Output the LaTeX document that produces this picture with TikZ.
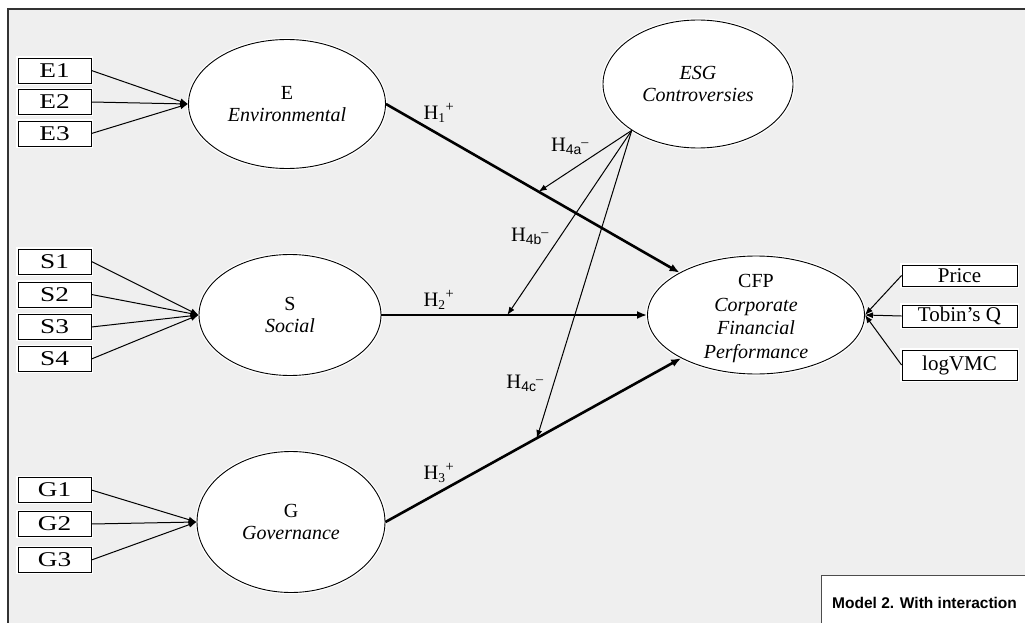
\documentclass[tikz,border=0pt]{standalone}
\usepackage{fontspec}
\setmainfont{Liberation Serif}
\setsansfont{Liberation Sans}
\newfontfamily\widefont[FakeStretch=1.3]{Liberation Serif}
\usetikzlibrary{shapes.geometric,arrows.meta}
\definecolor{bgc}{HTML}{EFEFEF}
\definecolor{frm}{HTML}{333333}
\newcommand{\hyplab}[2]{H\textsubscript{\fontsize{13.5}{13.5}\selectfont #1}\textsuperscript{\fontsize{14.5}{14.5}\selectfont #2}}
\newcommand{\hypmod}[1]{H\textsubscript{\sffamily\fontsize{14}{14}\selectfont #1}\textsuperscript{\fontsize{14}{14}\selectfont\kern-0.5pt\raisebox{-2.5pt}{–}}}
\begin{document}
\begin{tikzpicture}[x=1pt,y=-1pt,
  halo/.style={preaction={draw=white, line width=3.5pt}},
  lat/.style={ellipse, draw=black, fill=white, inner sep=0pt, align=center,
    font=\fontsize{20}{22}\selectfont, line width=0.9pt, halo},
  ind/.style={draw=black, fill=white, minimum width=73pt, minimum height=25pt,
    inner sep=0pt, font=\widefont\fontsize{21}{21}\selectfont, line width=0.9pt, halo},
  indr/.style={draw=black, fill=white, minimum width=115pt,
    inner sep=0pt, font=\fontsize{21}{21}\selectfont, line width=0.9pt, halo},
  ld/.style={-{Latex[length=8pt,width=6pt]}, line width=1pt},
  hyp/.style={-{Latex[length=10pt,width=8pt]}, line width=2.6pt},
  mod/.style={-{Latex[length=8pt,width=6pt]}, line width=1pt},
  hl/.style={font=\fontsize{20.5}{20.5}\selectfont, inner sep=0pt}
]
\useasboundingbox (0,0) rectangle (1025,623);
\fill[white] (0,0) rectangle (1025,623);
\draw[line width=2pt, draw=frm, fill=bgc] (8,9) rectangle (1045,645);

% latent variables
\node[lat, minimum width=197pt, minimum height=129pt] (E) at (287,104) {E\\\textit{Environmental}};
\node[lat, minimum width=182pt, minimum height=121pt] (S) at (290,315) {\raisebox{-3.5pt}{S}\\\raisebox{-3.5pt}{\textit{Social}}};
\node[lat, minimum width=188pt, minimum height=141pt] (G) at (291,522) {\raisebox{-3pt}{G}\\\raisebox{-3pt}{\textit{Governance}}};
\node[lat, minimum width=190pt, minimum height=128pt] (ESG) at (698,84) {\raisebox{-2pt}{\textit{ESG}}\\\raisebox{-2pt}{\textit{Controversies}}};
\node[lat, minimum width=217pt, minimum height=118pt,
  label={[align=center, font=\fontsize{20}{23.5}\selectfont, yshift=-3.5pt]center:CFP\\\textit{Corporate}\\\textit{Financial}\\\textit{Performance}}] (CFP) at (756,315) {};

% indicators
\node[ind] (E1) at (54.5,70.5) {E1};
\node[ind] (E2) at (54.5,102) {E2};
\node[ind] (E3) at (54.5,133.5) {E3};
\node[ind] (S1) at (54.5,261.5) {S1};
\node[ind] (S2) at (54.5,294.5) {S2};
\node[ind] (S3) at (54.5,327) {S3};
\node[ind] (S4) at (54.5,359) {S4};
\node[ind] (G1) at (54.5,490) {G1};
\node[ind] (G2) at (54.5,524) {G2};
\node[ind] (G3) at (54.5,560) {G3};
\node[indr, minimum height=21pt] (P) at (959.5,275.5) {Price};
\node[indr, minimum height=22pt] (T) at (959.5,316) {Tobin’s Q};
\node[indr, minimum height=30pt] (L) at (959.5,365) {logVMC};

% measurement arrows
\foreach \i in {E1,E2,E3} \draw[ld] (\i.east) -- (E.west);
\foreach \i in {S1,S2,S3,S4} \draw[ld] (\i.east) -- (S.west);
\foreach \i in {G1,G2,G3} \draw[ld] (\i.east) -- (G.west);
\foreach \i in {P,T,L} \draw[ld] (\i.west) -- (CFP.east);

% structural paths
\draw[hyp] (E.east) -- coordinate[pos=0.52] (m1) (CFP.151.7);
\draw[hyp] (S.east) -- coordinate[pos=0.474] (m2) (CFP.west);
\draw[hyp] (G.east) -- coordinate[pos=0.512] (m3) (CFP.210.5);

% moderation
\draw[mod] (ESG.215) -- (m1);
\draw[mod] (ESG.215) -- (m2);
\draw[mod] (ESG.215) -- (m3);

% labels
\node[hl] (h1) at (439,113) {\hyplab{1}{+}};
\node[hl] (h2) at (439,300) {\hyplab{2}{+}};
\node[hl] (h3) at (439,473) {\hyplab{3}{+}};
\node[hl] (h4a) at (570,146) {\hypmod{4a}};
\node[hl] (h4b) at (530,236) {\hypmod{4b}};
\node[hl] (h4c) at (525,383) {\hypmod{4c}};

% model box
\node[draw=black!70, fill=white, line width=1.2pt, anchor=north west,
  minimum width=230pt, minimum height=70pt, inner sep=0pt] (mb) at (821,575) {};
\node[font=\sffamily\bfseries\fontsize{15.5}{15.5}\selectfont, anchor=west, inner sep=0pt] (mt) at (832,603) {Model 2. With interaction};
\end{tikzpicture}
\end{document}
